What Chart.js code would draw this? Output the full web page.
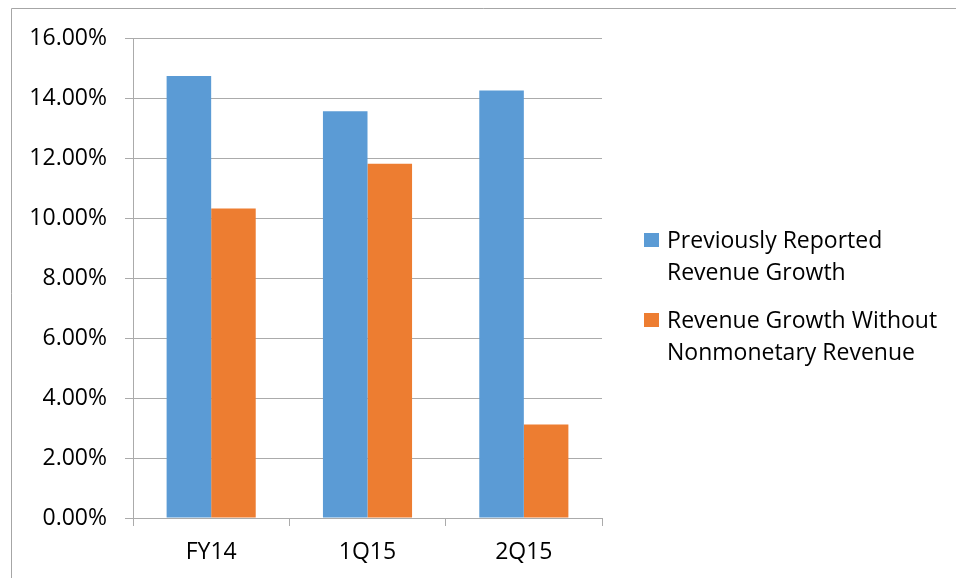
<!DOCTYPE html>
<html>
<head>
<meta charset="utf-8">
<script src="https://cdn.jsdelivr.net/npm/chart.js@4/dist/chart.umd.min.js"></script>
<style>
  html, body { margin: 0; padding: 0; background: #fff; }
  #wrap { width: 956px; height: 578px; position: relative; }
</style>
</head>
<body>
<div id="wrap"><canvas id="chart" width="956" height="578"></canvas></div>
<script>
const categories = ['FY14', '1Q15', '2Q15'];
const reported = [14.73, 13.56, 14.25];
const withoutNonmonetary = [10.32, 11.81, 3.12];
const seriesNames = ['Previously Reported Revenue Growth', 'Revenue Growth Without Nonmonetary Revenue'];
const legendLines = [['Previously Reported', 'Revenue Growth'], ['Revenue Growth Without', 'Nonmonetary Revenue']];
const seriesColors = ['#5B9BD5', '#ED7D31'];
const yTicks = [0, 2, 4, 6, 8, 10, 12, 14, 16];

const FONT = '"Open Sans", "Noto Sans", sans-serif';
const GRID = '#ababab';

// frame + white background
const framePlugin = {
    id: 'frame',
    beforeDraw(chart) {
        const ctx = chart.ctx;
        ctx.save();
        ctx.fillStyle = '#fff';
        ctx.fillRect(0, 0, chart.width, chart.height);
        ctx.strokeStyle = '#a6a6a6';
        ctx.lineWidth = 1;
        ctx.beginPath();
        ctx.moveTo(11.5, chart.height);
        ctx.lineTo(11.5, 8.5);
        ctx.lineTo(chart.width, 8.5);
        ctx.stroke();
        ctx.restore();
    }
};

// legend on the right with wrapped labels
const sideLegend = {
    id: 'sideLegend',
    afterDraw(chart) {
        const ctx = chart.ctx;
        ctx.save();
        ctx.font = '23px ' + FONT;
        ctx.textBaseline = 'middle';
        const tops = [240, 320];
        chart.data.datasets.forEach((ds, i) => {
            const y = tops[i];
            ctx.fillStyle = ds.backgroundColor;
            ctx.fillRect(644, y - 7, 15, 14);
            ctx.fillStyle = '#000';
            legendLines[i].forEach((line, j) => {
                ctx.fillText(line, 667, y + 1 + j * 32);
            });
        });
        ctx.restore();
    }
};

new Chart(document.getElementById('chart'), {
    type: 'bar',
    data: {
        labels: categories,
        datasets: [
            { label: seriesNames[0], data: reported, backgroundColor: seriesColors[0] },
            { label: seriesNames[1], data: withoutNonmonetary, backgroundColor: seriesColors[1] }
        ]
    },
    options: {
        responsive: false,
        animation: false,
        layout: { padding: { left: 0, right: 354, top: 38, bottom: 0 } },
        datasets: { bar: { categoryPercentage: 0.57, barPercentage: 1, borderWidth: 0 } },
        plugins: { legend: { display: false }, tooltip: { enabled: false } },
        scales: {
            x: {
                afterFit: s => { s.height = 60; },
                grid: { offset: true, drawOnChartArea: false, drawTicks: true, tickLength: 8, color: GRID },
                border: { color: GRID },
                ticks: { color: '#000', padding: 13, font: { family: FONT, size: 23 } }
            },
            y: {
                min: 0, max: 16,
                afterFit: s => { s.width = 133; },
                afterBuildTicks: s => { s.ticks = yTicks.map(v => ({ value: v })); },
                grid: { color: GRID, tickLength: 8 },
                border: { color: GRID },
                ticks: {
                    color: '#000', padding: 18,
                    font: { family: FONT, size: 23 },
                    callback: v => v.toFixed(2) + '%'
                }
            }
        }
    },
    plugins: [framePlugin, sideLegend]
});
</script>
</body>
</html>
